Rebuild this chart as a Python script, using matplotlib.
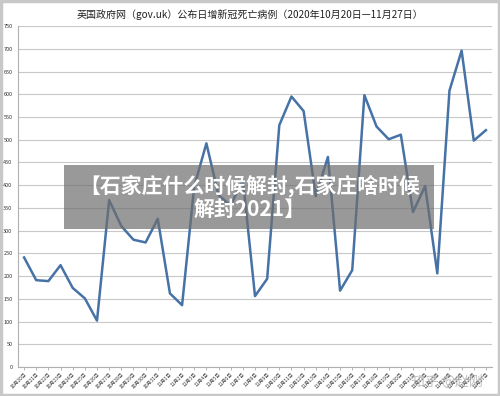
import numpy as np
import matplotlib.pyplot as plt
from matplotlib.patches import Rectangle

plt.rcParams['font.family'] = ['Noto Sans CJK SC', 'DejaVu Sans']

# 数据：每日新增死亡病例
dates = ['10月20日', '10月21日', '10月22日', '10月23日', '10月24日', '10月25日', '10月26日',
         '10月27日', '10月28日', '10月29日', '10月30日', '10月31日', '11月1日', '11月2日',
         '11月3日', '11月4日', '11月5日', '11月6日', '11月7日', '11月8日', '11月9日',
         '11月10日', '11月11日', '11月12日', '11月13日', '11月14日', '11月15日', '11月16日',
         '11月17日', '11月18日', '11月19日', '11月20日', '11月21日', '11月22日', '11月23日',
         '11月24日', '11月25日', '11月26日', '11月27日']
deaths = [241, 191, 189, 224, 174, 151, 102, 367, 310, 280, 274, 326, 162, 136,
          397, 492, 378, 355, 413, 156, 194, 532, 595, 563, 376, 462, 168, 213,
          598, 529, 501, 511, 341, 398, 206, 608, 696, 498, 521]
y_ticks = list(range(0, 751, 50))

title = '英国政府网（gov.uk）公布日增新冠死亡病例（2020年10月20日—11月27日）'
banner = '【石家庄什么时候解封,石家庄啥时候\n解封2021】'

fig = plt.figure(figsize=(5.0, 3.96), dpi=100)
ax = fig.add_axes([0.036, 0.0732, 0.948, 0.861])

x = np.arange(len(deaths))
ax.plot(x, deaths, color='#4672a6', linewidth=1.8, zorder=3)

ax.set_xlim(-0.5, len(deaths) - 0.5)
ax.set_ylim(0, 750)
ax.set_yticks(y_ticks)
ax.set_yticklabels([str(v) for v in y_ticks], fontsize=4)
ax.set_xticks(x)
ax.set_xticklabels(dates, fontsize=3.5, rotation=45, ha='right', rotation_mode='anchor')
ax.tick_params(axis='y', length=0, pad=4, colors='#333333')
ax.tick_params(axis='x', length=2, width=0.5, color='#999999', pad=1, colors='#333333')
ax.grid(axis='y', color='#c8c8c8', linewidth=0.8)
ax.set_axisbelow(True)
for side in ['top', 'right']:
    ax.spines[side].set_visible(False)
for side in ['left', 'bottom']:
    ax.spines[side].set_color('#b0b0b0')
    ax.spines[side].set_linewidth(0.8)

fig.text(0.5, 0.962, title, ha='center', va='center', fontsize=7.2, color='#222222')

# 半透明横幅
fig.patches.append(Rectangle((64 / 500, 1 - 229 / 396), 370 / 500, 64 / 396,
                             transform=fig.transFigure, facecolor='#6e6e6e',
                             alpha=0.7, zorder=5))
fig.text(0.5, 1 - 197 / 396, banner, ha='center', va='center', fontsize=15,
         fontweight='bold', color='white', linespacing=1.1, zorder=6)

# 水印
fig.text(0.965, 0.035, '知乎 @赵刚', ha='right', va='center', fontsize=10,
         color='#9a9a9a', alpha=0.6, zorder=6)

# 外框
fig.patches.append(Rectangle((0.002, 0.002), 0.996, 0.996, transform=fig.transFigure,
                             fill=False, edgecolor='#c8c8c8', linewidth=2.5, zorder=7))

fig.savefig('out.png', dpi=100)
